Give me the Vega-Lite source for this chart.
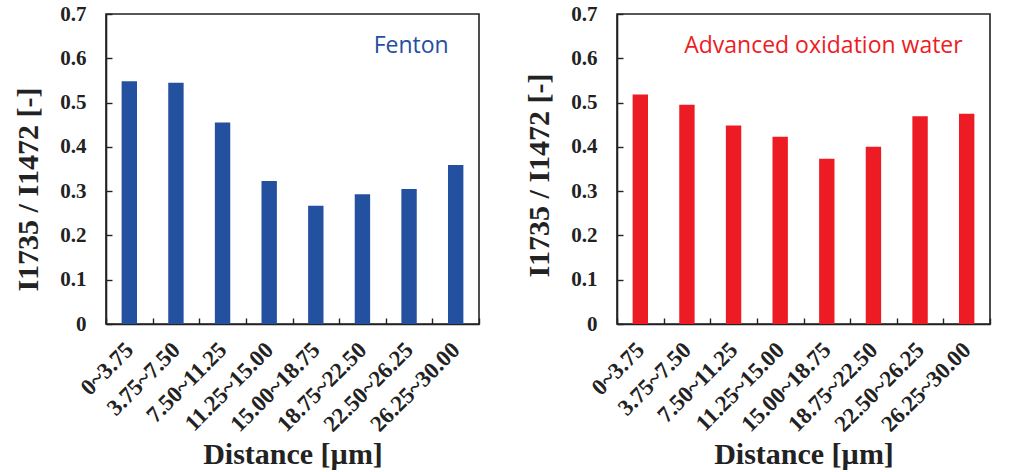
{
  "$schema": "https://vega.github.io/schema/vega-lite/v6.json",
  "background": "white",
  "padding": {"left": 12, "top": 2, "right": 16, "bottom": 2},
  "autosize": {"type": "pad"},
  "datasets": {
    "fenton": [
      {"distance": "0~3.75", "ratio": 0.548},
      {"distance": "3.75~7.50", "ratio": 0.545},
      {"distance": "7.50~11.25", "ratio": 0.455},
      {"distance": "11.25~15.00", "ratio": 0.323},
      {"distance": "15.00~18.75", "ratio": 0.267},
      {"distance": "18.75~22.50", "ratio": 0.293},
      {"distance": "22.50~26.25", "ratio": 0.305},
      {"distance": "26.25~30.00", "ratio": 0.359}
    ],
    "aow": [
      {"distance": "0~3.75", "ratio": 0.518},
      {"distance": "3.75~7.50", "ratio": 0.495},
      {"distance": "7.50~11.25", "ratio": 0.448},
      {"distance": "11.25~15.00", "ratio": 0.423},
      {"distance": "15.00~18.75", "ratio": 0.373},
      {"distance": "18.75~22.50", "ratio": 0.400},
      {"distance": "22.50~26.25", "ratio": 0.469},
      {"distance": "26.25~30.00", "ratio": 0.475}
    ]
  },
  "config": {
    "view": {"stroke": "#222222", "strokeWidth": 1.6},
    "axis": {
      "domainColor": "#222222",
      "domainWidth": 1.6,
      "tickColor": "#222222",
      "tickWidth": 1.4,
      "grid": false,
      "labelFont": "Liberation Serif",
      "labelFontWeight": "bold",
      "labelColor": "#222222",
      "titleFont": "Liberation Serif",
      "titleFontWeight": "bold",
      "titleColor": "#222222"
    }
  },
  "spacing": 42,
  "hconcat": [
    {
      "width": 373,
      "height": 310,
      "data": {"name": "fenton"},
      "layer": [
        {
          "mark": {"type": "bar", "color": "#2450A0", "width": {"band": 0.33}},
          "encoding": {
            "x": {
              "field": "distance", "type": "nominal", "sort": null,
              "scale": {"paddingInner": 0, "paddingOuter": 0},
              "axis": {
                "title": "Distance [µm]", "titleFontSize": 30, "titlePadding": 3,
                "labelAngle": -45, "labelAlign": "right", "labelBaseline": "middle",
                "labelFontSize": 23, "labelPadding": 28, "tickSize": -6,
                "tickBand": "extent"
              }
            },
            "y": {
              "field": "ratio", "type": "quantitative",
              "scale": {"domain": [0, 0.7], "nice": false},
              "axis": {
                "title": "I1735 / I1472 [-]", "titleFontSize": 30, "titlePadding": 16,
                "titleY": 175,
                "values": [0, 0.1, 0.2, 0.3, 0.4, 0.5, 0.6, 0.7],
                "labelExpr": "datum.value == 0 ? '0' : format(datum.value, '.1f')",
                "labelFontSize": 21, "labelPadding": 26, "tickSize": -6
              }
            }
          }
        },
        {
          "data": {"values": [{"label": "Fenton"}]},
          "mark": {"type": "text", "align": "right", "baseline": "alphabetic", "dx": -7,
                   "font": "Open Sans", "fontSize": 23, "color": "#2450A0"},
          "encoding": {
            "text": {"field": "label"},
            "x": {"datum": "26.25~30.00"},
            "y": {"datum": 0.612}
          }
        }
      ]
    },
    {
      "width": 373,
      "height": 310,
      "data": {"name": "aow"},
      "layer": [
        {
          "mark": {"type": "bar", "color": "#ED1C24", "width": {"band": 0.33}},
          "encoding": {
            "x": {
              "field": "distance", "type": "nominal", "sort": null,
              "scale": {"paddingInner": 0, "paddingOuter": 0},
              "axis": {
                "title": "Distance [µm]", "titleFontSize": 30, "titlePadding": 3,
                "labelAngle": -45, "labelAlign": "right", "labelBaseline": "middle",
                "labelFontSize": 23, "labelPadding": 28, "tickSize": -6,
                "tickBand": "extent"
              }
            },
            "y": {
              "field": "ratio", "type": "quantitative",
              "scale": {"domain": [0, 0.7], "nice": false},
              "axis": {
                "title": "I1735 / I1472 [-]", "titleFontSize": 30, "titlePadding": 16,
                "titleY": 161,
                "values": [0, 0.1, 0.2, 0.3, 0.4, 0.5, 0.6, 0.7],
                "labelExpr": "datum.value == 0 ? '0' : format(datum.value, '.1f')",
                "labelFontSize": 21, "labelPadding": 26, "tickSize": -6
              }
            }
          }
        },
        {
          "data": {"values": [{"label": "Advanced oxidation water"}]},
          "mark": {"type": "text", "align": "right", "baseline": "alphabetic", "dx": -4,
                   "font": "Open Sans", "fontSize": 23, "color": "#ED1C24"},
          "encoding": {
            "text": {"field": "label"},
            "x": {"datum": "26.25~30.00"},
            "y": {"datum": 0.612}
          }
        }
      ]
    }
  ]
}
